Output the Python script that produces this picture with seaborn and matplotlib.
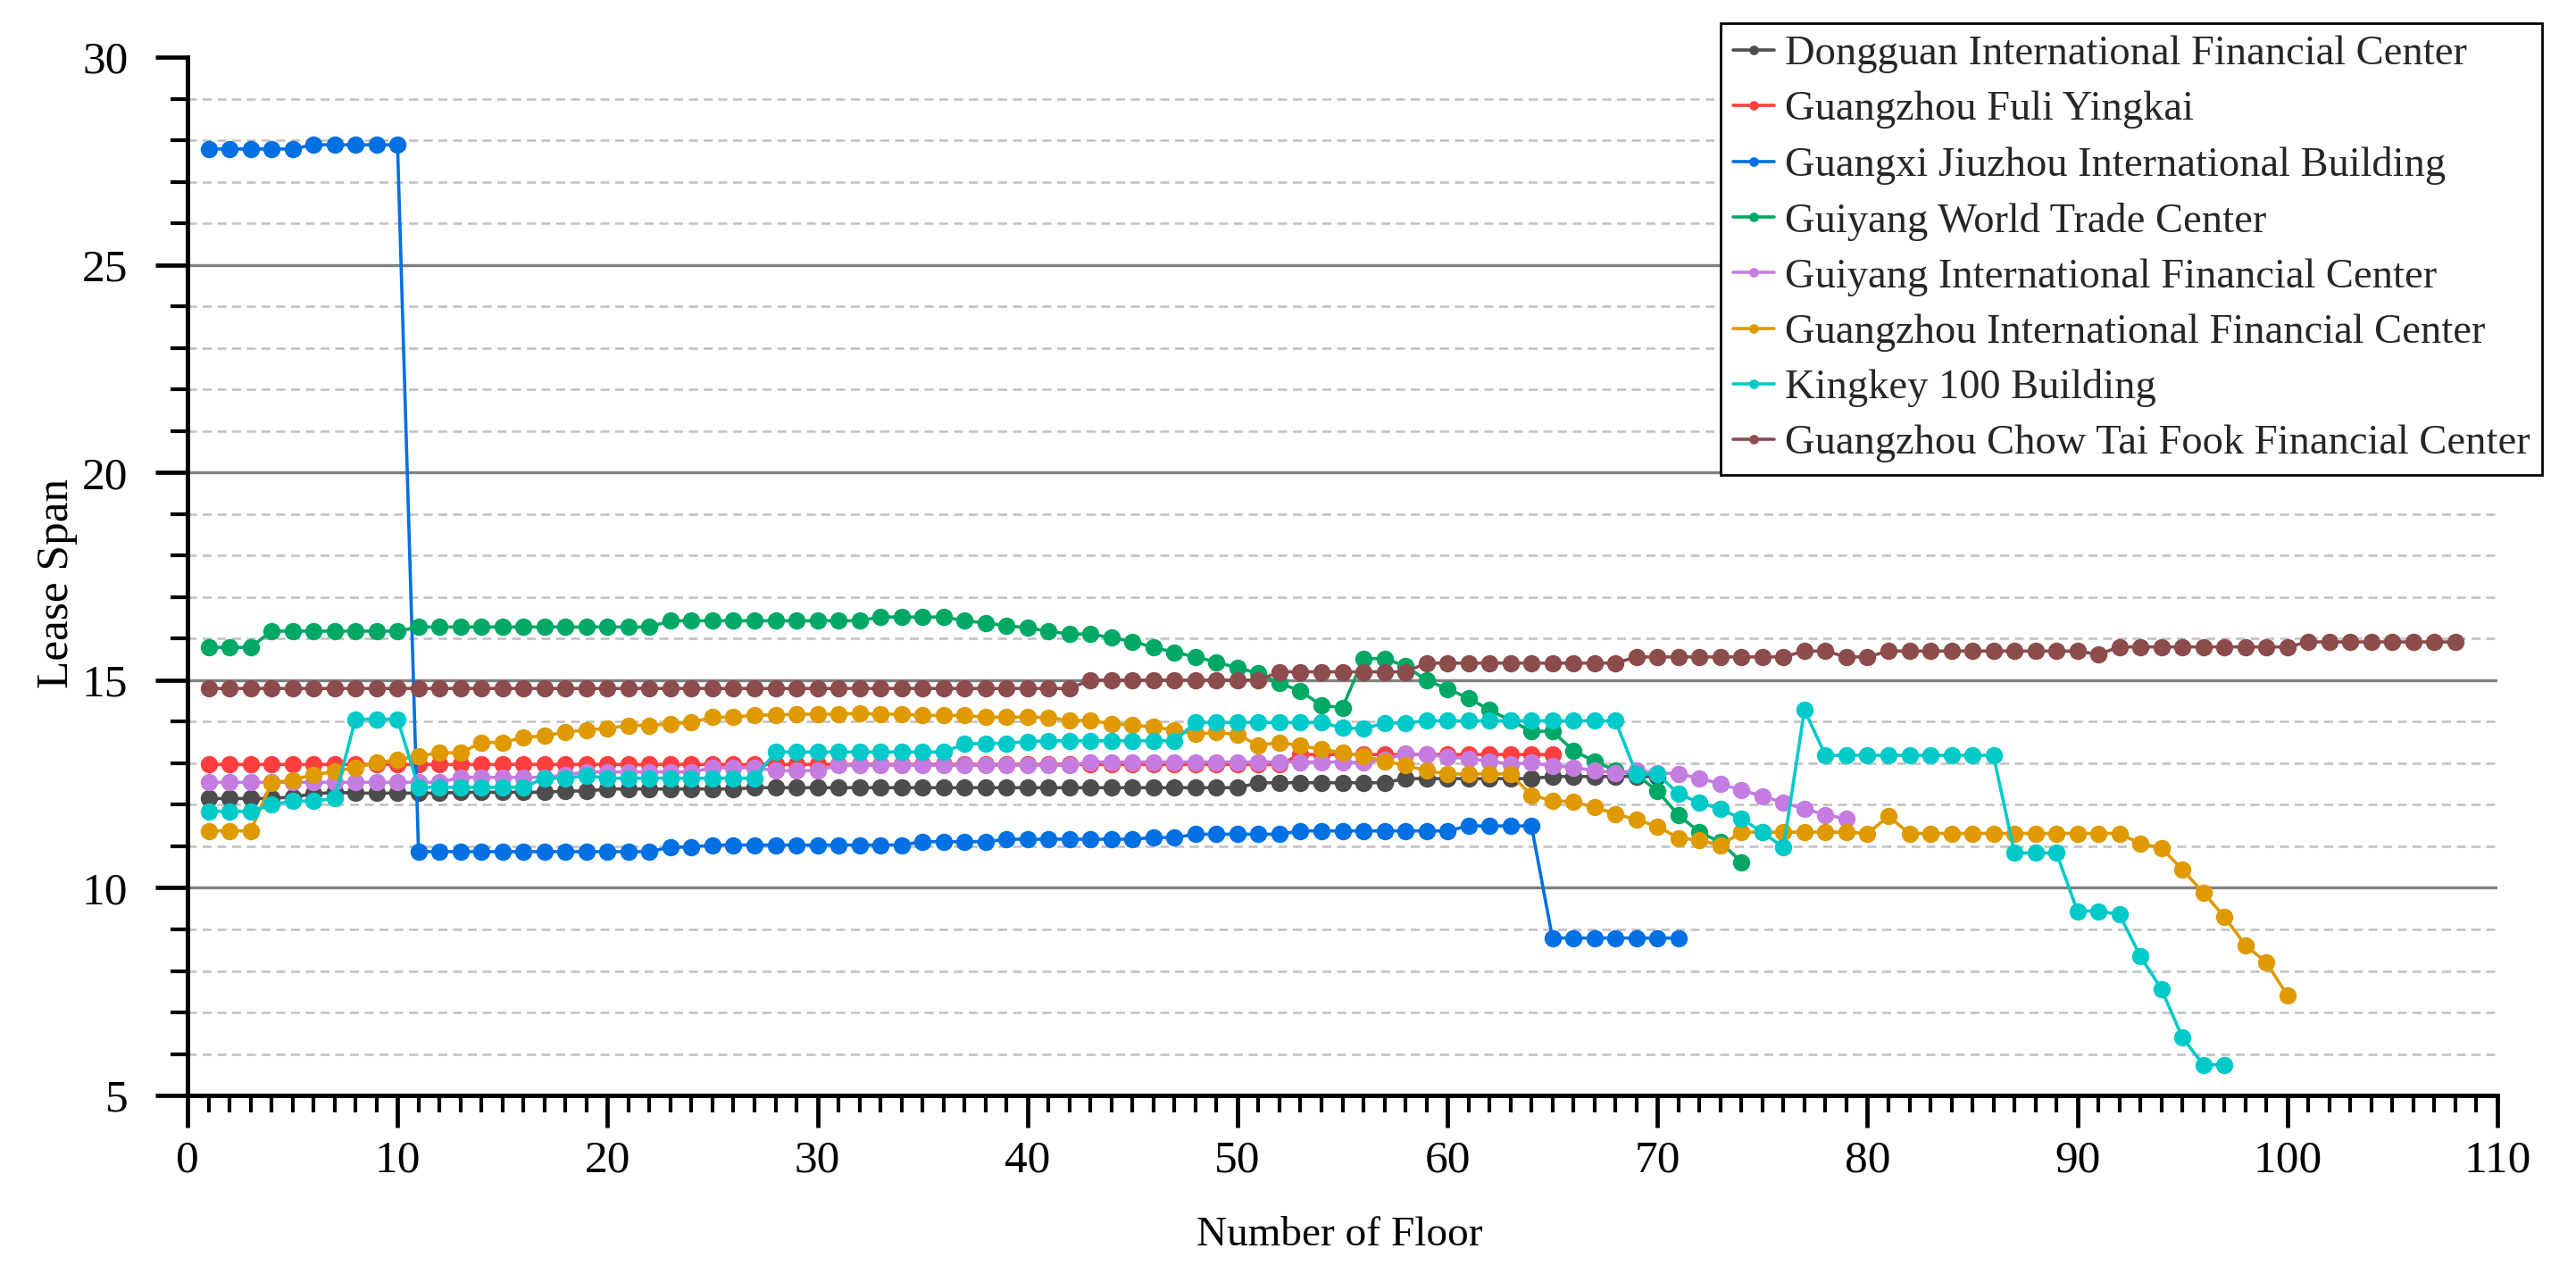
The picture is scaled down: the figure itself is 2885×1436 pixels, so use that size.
import matplotlib
matplotlib.use("Agg")
import matplotlib.pyplot as plt
from matplotlib.ticker import MultipleLocator
import seaborn as sns
import pandas as pd

# ---------------- data ----------------
names = [
    "Dongguan International Financial Center",
    "Guangzhou Fuli Yingkai",
    "Guangxi Jiuzhou International Building",
    "Guiyang World Trade Center",
    "Guiyang International Financial Center",
    "Guangzhou International Financial Center",
    "Kingkey 100 Building",
    "Guangzhou Chow Tai Fook Financial Center",
]

dongguan_ifc = [
    12.15, 12.15, 12.15, 12.15, 12.19, 12.26, 12.30, 12.28, 12.28, 12.28,
    12.28, 12.28, 12.30, 12.30, 12.30, 12.30, 12.30, 12.33, 12.33, 12.38,
    12.38, 12.38, 12.38, 12.38, 12.38, 12.38, 12.41, 12.41, 12.41, 12.41,
    12.41, 12.41, 12.41, 12.41, 12.41, 12.41, 12.41, 12.41, 12.41, 12.41,
    12.41, 12.41, 12.41, 12.41, 12.41, 12.41, 12.41, 12.41, 12.41, 12.41,
    12.53, 12.53, 12.53, 12.53, 12.53, 12.53, 12.53, 12.63, 12.63, 12.63,
    12.63, 12.63, 12.63, 12.63, 12.68, 12.68, 12.68, 12.68, 12.68, 12.68,
]

fuli_yingkai = [
    12.97, 12.97, 12.97, 12.97, 12.97, 12.97, 12.97, 12.97, 12.97, 12.97,
    12.97, 12.97, 12.97, 12.97, 12.97, 12.97, 12.97, 12.97, 12.97, 12.97,
    12.97, 12.97, 12.97, 12.97, 12.97, 12.97, 12.97, 12.97, 12.97, 12.97,
    12.97, 12.97, 12.97, 12.97, 12.97, 12.97, 12.97, 12.97, 12.97, 12.97,
    12.97, 12.97, 12.97, 12.97, 12.97, 12.97, 12.97, 12.97, 12.97, 12.97,
    12.97, 12.97, 13.21, 13.21, 13.21, 13.21, 13.21, 13.21, 13.21, 13.21,
    13.21, 13.21, 13.21, 13.21, 13.21,
]

guangxi_jiuzhou = [
    27.79, 27.79, 27.79, 27.79, 27.79, 27.89, 27.89, 27.89, 27.89, 27.89,
    10.87, 10.87, 10.87, 10.87, 10.87, 10.87, 10.87, 10.87, 10.87, 10.87,
    10.87, 10.87, 10.98, 10.98, 11.03, 11.03, 11.03, 11.03, 11.03, 11.03,
    11.03, 11.03, 11.03, 11.03, 11.11, 11.11, 11.11, 11.11, 11.17, 11.17,
    11.17, 11.17, 11.17, 11.17, 11.17, 11.21, 11.21, 11.29, 11.29, 11.29,
    11.29, 11.29, 11.37, 11.37, 11.37, 11.37, 11.37, 11.37, 11.37, 11.37,
    11.49, 11.49, 11.49, 11.49, 8.79, 8.79, 8.79, 8.79, 8.79, 8.79,
    8.79,
]

guiyang_wtc = [
    15.79, 15.79, 15.79, 16.18, 16.18, 16.18, 16.18, 16.18, 16.18, 16.18,
    16.28, 16.28, 16.28, 16.28, 16.28, 16.28, 16.28, 16.28, 16.28, 16.28,
    16.28, 16.28, 16.43, 16.43, 16.43, 16.43, 16.43, 16.43, 16.43, 16.43,
    16.43, 16.43, 16.52, 16.52, 16.52, 16.52, 16.43, 16.38, 16.31, 16.26,
    16.18, 16.11, 16.11, 16.02, 15.93, 15.79, 15.67, 15.56, 15.43, 15.30,
    15.16, 14.93, 14.74, 14.39, 14.34, 15.52, 15.52, 15.34, 15.00, 14.79,
    14.57, 14.28, 14.03, 13.77, 13.77, 13.30, 13.05, 12.82, 12.72, 12.33,
    11.75, 11.34, 11.10, 10.62,
]

guiyang_ifc = [
    12.54, 12.54, 12.54, 12.54, 12.54, 12.54, 12.54, 12.54, 12.54, 12.54,
    12.54, 12.54, 12.66, 12.66, 12.66, 12.66, 12.66, 12.72, 12.79, 12.79,
    12.79, 12.79, 12.79, 12.79, 12.89, 12.89, 12.89, 12.82, 12.82, 12.82,
    12.95, 12.95, 12.95, 12.95, 12.95, 12.95, 12.95, 12.95, 12.95, 12.95,
    12.95, 12.95, 13.03, 13.03, 13.03, 13.03, 13.03, 13.03, 13.03, 13.03,
    13.03, 13.03, 13.03, 13.03, 13.03, 13.01, 13.09, 13.23, 13.21, 13.15,
    13.11, 13.05, 12.98, 13.01, 12.94, 12.90, 12.82, 12.77, 12.82, 12.77,
    12.74, 12.64, 12.50, 12.35, 12.21, 12.05, 11.90, 11.76, 11.66,
]

guangzhou_ifc = [
    11.37, 11.37, 11.37, 12.52, 12.60, 12.72, 12.80, 12.90, 13.01, 13.09,
    13.17, 13.25, 13.25, 13.50, 13.50, 13.62, 13.66, 13.75, 13.80, 13.84,
    13.91, 13.91, 13.95, 13.98, 14.11, 14.11, 14.16, 14.16, 14.18, 14.18,
    14.18, 14.20, 14.18, 14.18, 14.15, 14.15, 14.15, 14.11, 14.11, 14.11,
    14.10, 14.03, 14.03, 13.95, 13.92, 13.87, 13.80, 13.70, 13.74, 13.69,
    13.43, 13.50, 13.42, 13.34, 13.25, 13.17, 13.05, 12.95, 12.82, 12.74,
    12.74, 12.74, 12.74, 12.23, 12.10, 12.07, 11.94, 11.78, 11.64, 11.48,
    11.20, 11.15, 11.02, 11.34, 11.34, 11.34, 11.34, 11.34, 11.34, 11.31,
    11.72, 11.31, 11.31, 11.31, 11.31, 11.31, 11.31, 11.31, 11.31, 11.31,
    11.31, 11.31, 11.06, 10.96, 10.44, 9.88, 9.30, 8.62, 8.20, 7.41,
]

kingkey_100 = [
    11.84, 11.84, 11.84, 12.00, 12.09, 12.09, 12.15, 14.06, 14.06, 14.06,
    12.42, 12.42, 12.42, 12.42, 12.42, 12.42, 12.64, 12.64, 12.70, 12.64,
    12.64, 12.64, 12.64, 12.64, 12.64, 12.64, 12.64, 13.27, 13.27, 13.27,
    13.27, 13.27, 13.27, 13.27, 13.27, 13.27, 13.46, 13.48, 13.48, 13.52,
    13.54, 13.54, 13.54, 13.54, 13.54, 13.54, 13.54, 13.98, 13.98, 13.98,
    13.98, 13.98, 13.98, 13.98, 13.85, 13.83, 13.97, 13.97, 14.02, 14.02,
    14.02, 14.02, 14.02, 14.02, 14.02, 14.02, 14.02, 14.02, 12.74, 12.74,
    12.26, 12.05, 11.90, 11.66, 11.34, 10.97, 14.28, 13.19, 13.19, 13.19,
    13.19, 13.19, 13.19, 13.19, 13.19, 13.19, 10.84, 10.84, 10.84, 9.44,
    9.44, 9.36, 8.35, 7.56, 6.39, 5.74, 5.74,
]

chow_tai_fook = [
    14.80, 14.80, 14.80, 14.80, 14.80, 14.80, 14.80, 14.80, 14.80, 14.80,
    14.80, 14.80, 14.80, 14.80, 14.80, 14.80, 14.80, 14.80, 14.80, 14.80,
    14.80, 14.80, 14.80, 14.80, 14.80, 14.80, 14.80, 14.80, 14.80, 14.80,
    14.80, 14.80, 14.80, 14.80, 14.80, 14.80, 14.80, 14.80, 14.80, 14.80,
    14.80, 14.80, 15.00, 15.00, 15.00, 15.00, 15.00, 15.00, 15.00, 15.00,
    15.00, 15.20, 15.20, 15.20, 15.20, 15.20, 15.20, 15.20, 15.41, 15.41,
    15.41, 15.41, 15.41, 15.41, 15.41, 15.41, 15.41, 15.41, 15.56, 15.56,
    15.56, 15.56, 15.56, 15.56, 15.56, 15.56, 15.70, 15.70, 15.56, 15.56,
    15.70, 15.70, 15.70, 15.70, 15.70, 15.70, 15.70, 15.70, 15.70, 15.70,
    15.62, 15.80, 15.80, 15.80, 15.80, 15.80, 15.80, 15.80, 15.80, 15.80,
    15.92, 15.92, 15.92, 15.92, 15.92, 15.92, 15.92, 15.92,
]

series = [dongguan_ifc, fuli_yingkai, guangxi_jiuzhou, guiyang_wtc,
          guiyang_ifc, guangzhou_ifc, kingkey_100, chow_tai_fook]

colors = ["#4d4d4d", "#ff3f3f", "#0070e3", "#00a866",
          "#c57ce0", "#de9a00", "#00c9c9", "#8c4c4c"]

x_ticks = [0, 10, 20, 30, 40, 50, 60, 70, 80, 90, 100, 110]
y_ticks = [5, 10, 15, 20, 25, 30]

# ---------------- build long table ----------------
rows = []
for name, vals in zip(names, series):
    for i, v in enumerate(vals):
        rows.append({"Floor": i + 1, "Span": v, "Building": name})
df = pd.DataFrame(rows)

# ---------------- plot ----------------
sns.set_theme(style="white")
plt.rcParams["font.family"] = ["Liberation Serif", "DejaVu Serif"]

fig = plt.figure(figsize=(28.85, 14.36), dpi=100)
ax = fig.add_axes([0.0728, 0.1455, 0.8967, 0.8099])

# grid lines (drawn first, below data)
for yv in [10, 15, 20, 25]:
    ax.axhline(yv, color="#808080", lw=2.4, zorder=0)
for yv in range(6, 30):
    if yv % 5 != 0:
        ax.axhline(yv, color="#c0c0c0", lw=1.8, ls=(0, (4, 2.6)), zorder=0)

sns.lineplot(data=df, x="Floor", y="Span", hue="Building", hue_order=names,
             palette=colors, marker="o", markersize=14, markeredgewidth=0,
             linewidth=2.6, errorbar=None, legend=False, ax=ax, sort=True)

ax.set_xlim(0, 110)
ax.set_ylim(5, 30)
ax.set_xticks(x_ticks)
ax.set_yticks(y_ticks)
ax.xaxis.set_minor_locator(MultipleLocator(1))
ax.yaxis.set_minor_locator(MultipleLocator(1))

for s in ["top", "right"]:
    ax.spines[s].set_visible(False)
for s in ["left", "bottom"]:
    ax.spines[s].set_color("black")
    ax.spines[s].set_linewidth(3.6)

ax.tick_params(axis="both", which="major", direction="out", length=26, width=3.4,
               color="black", labelsize=37, labelcolor="black")
ax.tick_params(axis="x", which="major", pad=10)
ax.tick_params(axis="y", which="major", pad=22)
ax.tick_params(axis="both", which="minor", direction="out", length=14, width=3.0,
               color="black")
ax.tick_params(axis="x", which="both", bottom=True)
ax.tick_params(axis="y", which="both", left=True)

ax.set_xlabel("Number of Floor", fontsize=34, color="black")
ax.set_ylabel("Lease Span", fontsize=37, color="black")
ax.xaxis.set_label_coords(0.4987, -0.135)
ax.xaxis.label.set_va("center")
ax.yaxis.set_label_coords(-0.0564, 0.4935)
ax.yaxis.label.set_va("center")

handles = [l for l in ax.get_lines() if l.get_marker() == "o"]
leg = fig.legend(handles, names, loc="upper right", bbox_to_anchor=(0.987, 0.982),
                 fontsize=33.5, frameon=True, fancybox=False, edgecolor="black",
                 framealpha=1, borderpad=0.3, labelspacing=0.42, handlelength=1.0,
                 handletextpad=0.25, borderaxespad=0, markerscale=0.55)
leg.get_frame().set_linewidth(2.0)

fig.savefig("out.png", dpi=100)
